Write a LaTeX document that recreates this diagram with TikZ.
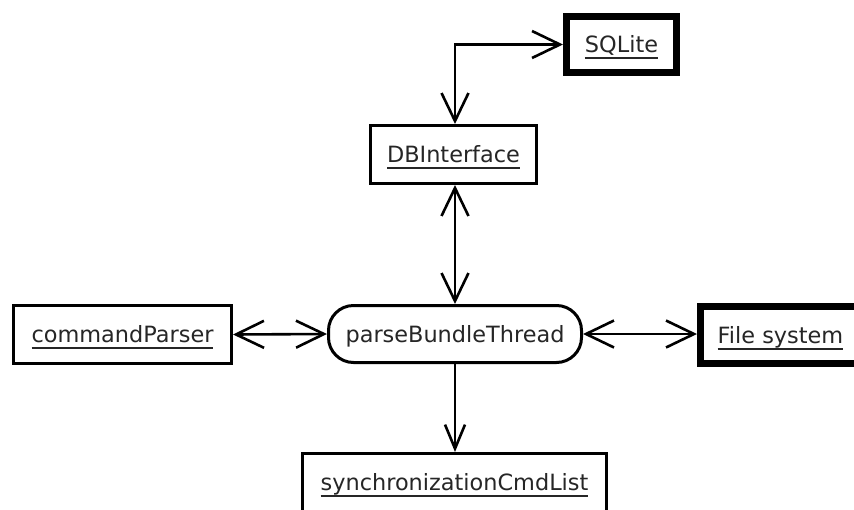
\documentclass[tikz,border=0pt]{standalone}
\usepackage{fontspec}
\setmainfont{DejaVu Sans}
\usetikzlibrary{arrows.meta}
\newcommand\ulname[1]{\setbox0\hbox{#1}\rlap{\smash{\rule[-6.5pt]{\wd0}{2pt}}}\box0}
\tikzset{
  box/.style={draw=black, line width=3pt, fill=white, text=black!85,
    inner sep=0pt, text height=16.3pt, text depth=0pt,
    font=\fontsize{22.4pt}{26pt}\selectfont},
  thickbox/.style={box, line width=7pt},
  roundbox/.style={box, rounded corners=25pt},
  conn/.style={line width=2.6pt, draw=black},
  biarrow/.style={conn, {Straight Barb[length=28pt,width=27pt]}-{Straight Barb[length=28pt,width=27pt]}},
  onearrow/.style={conn, -{Straight Barb[length=24pt,width=20pt]}}
}
\begin{document}
\begin{tikzpicture}[x=1pt,y=-1pt]
\useasboundingbox (0,0) rectangle (854,509);
\node[thickbox, minimum width=110pt, minimum height=56pt] (sqlite) at (621.5,44.5) {\ulname{SQLite}};
\node[box, minimum width=166pt, minimum height=58pt] (db) at (453.5,154.5) {\ulname{DBInterface}};
\node[roundbox, minimum width=253pt, minimum height=57pt] (parse) at (455,334) {parseBundleThread};
\node[box, minimum width=218pt, minimum height=58pt] (cmd) at (122.5,334.5) {\ulname{commandParser}};
\node[thickbox, minimum width=160pt, minimum height=57pt] (fs) at (780.5,335) {\ulname{File system}};
\node[box, minimum width=304pt, minimum height=58pt] (sync) at (454.5,482.5) {\ulname{synchronizationCmdList}};
\draw[biarrow] (sqlite.west) -| (parse.north |- db.north);
\draw[biarrow] (parse.north |- db.south) -- (parse.north);
\draw[biarrow] (cmd.east) -- (parse.west);
\draw[biarrow] (parse.east) -- (parse.east -| fs.west);
\draw[onearrow] (parse.south) -- (parse.south |- sync.north);
\end{tikzpicture}
\end{document}
